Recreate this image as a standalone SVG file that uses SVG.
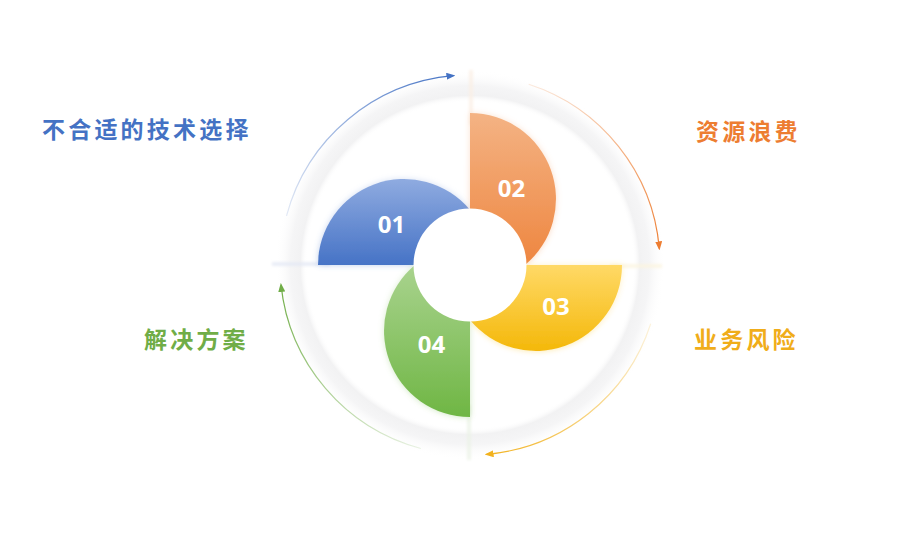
<svg xmlns="http://www.w3.org/2000/svg" width="897" height="555" viewBox="0 0 897 555">
<style>
.lbl{font-family:"Noto Sans CJK SC","Noto Sans",sans-serif;font-weight:700;font-size:23px;letter-spacing:3.2px}
.num{font-family:"Open Sans","Noto Sans",sans-serif;font-weight:700;font-size:24px;fill:#fff;text-anchor:middle}
.arc{fill:none;stroke-width:1.2}
.gap{stroke-width:3;fill:none}
</style>
<defs>
<radialGradient id="ring" gradientUnits="userSpaceOnUse" cx="470" cy="265" r="195">
<stop offset="0" stop-color="#fff" stop-opacity="0"/>
<stop offset="0.835" stop-color="#fff" stop-opacity="0"/>
<stop offset="0.87" stop-color="#f2f2f3" stop-opacity="1"/>
<stop offset="0.92" stop-color="#f5f5f6" stop-opacity="1"/>
<stop offset="1" stop-color="#fff" stop-opacity="0"/>
</radialGradient>
<linearGradient id="gBlue" x1="0" y1="0" x2="0" y2="1"><stop offset="0" stop-color="#8fabe0"/><stop offset="1" stop-color="#4673c6"/></linearGradient>
<linearGradient id="gOrange" x1="0" y1="0" x2="0" y2="1"><stop offset="0" stop-color="#f4b384"/><stop offset="1" stop-color="#ee8640"/></linearGradient>
<linearGradient id="gYellow" x1="0" y1="0" x2="0" y2="1"><stop offset="0" stop-color="#ffd966"/><stop offset="1" stop-color="#f4b80a"/></linearGradient>
<linearGradient id="gGreen" x1="0" y1="0" x2="0" y2="1"><stop offset="0" stop-color="#a9d38e"/><stop offset="1" stop-color="#6fb644"/></linearGradient>
<linearGradient id="aBlue" gradientUnits="userSpaceOnUse" x1="286.5" y1="215.8" x2="453.4" y2="75.7"><stop offset="0" stop-color="#4472c4" stop-opacity="0.15"/><stop offset="1" stop-color="#4472c4"/></linearGradient>
<linearGradient id="aOrange" gradientUnits="userSpaceOnUse" x1="528.7" y1="84.3" x2="659.3" y2="248.4"><stop offset="0" stop-color="#ed7d31" stop-opacity="0.15"/><stop offset="1" stop-color="#ed7d31"/></linearGradient>
<linearGradient id="aYellow" gradientUnits="userSpaceOnUse" x1="650.7" y1="323.7" x2="486.6" y2="454.3"><stop offset="0" stop-color="#f2b21e" stop-opacity="0.15"/><stop offset="1" stop-color="#f2b21e"/></linearGradient>
<linearGradient id="aGreen" gradientUnits="userSpaceOnUse" x1="420.8" y1="448.5" x2="281.0" y2="284.9"><stop offset="0" stop-color="#70ad47" stop-opacity="0.15"/><stop offset="1" stop-color="#70ad47"/></linearGradient>
<marker id="mBlue" markerUnits="userSpaceOnUse" markerWidth="9" markerHeight="7" refX="7" refY="3.5" orient="auto"><path d="M0,0 L9,3.5 L0,7 Z" fill="#4472c4"/></marker>
<marker id="mOrange" markerUnits="userSpaceOnUse" markerWidth="9" markerHeight="7" refX="7" refY="3.5" orient="auto"><path d="M0,0 L9,3.5 L0,7 Z" fill="#ed7d31"/></marker>
<marker id="mYellow" markerUnits="userSpaceOnUse" markerWidth="9" markerHeight="7" refX="7" refY="3.5" orient="auto"><path d="M0,0 L9,3.5 L0,7 Z" fill="#f2b21e"/></marker>
<marker id="mGreen" markerUnits="userSpaceOnUse" markerWidth="9" markerHeight="7" refX="7" refY="3.5" orient="auto"><path d="M0,0 L9,3.5 L0,7 Z" fill="#70ad47"/></marker>
<filter id="glow" x="-20%" y="-20%" width="140%" height="140%">
<feGaussianBlur in="SourceGraphic" stdDeviation="3" result="b"/>
<feComponentTransfer in="b" result="c"><feFuncA type="linear" slope="0.35"/></feComponentTransfer>
<feMerge><feMergeNode in="c"/><feMergeNode in="SourceGraphic"/></feMerge>
</filter>
<filter id="soft" x="-50%" y="-50%" width="200%" height="200%"><feGaussianBlur stdDeviation="1.5"/></filter>
</defs>
<rect width="897" height="555" fill="#fff"/>
<g id="ring-bg">
<circle cx="470" cy="265" r="195" fill="url(#ring)"/>
<g filter="url(#soft)">
<line class="gap" x1="272" y1="264" x2="330" y2="264" stroke="#e3e8f4"/>
<line class="gap" x1="471" y1="70" x2="471" y2="125" stroke="#faeee4"/>
<line class="gap" x1="610" y1="266" x2="662" y2="266" stroke="#fcf4de"/>
<line class="gap" x1="469" y1="405" x2="469" y2="460" stroke="#ebf2e6"/>
</g>
</g>
<g id="connectors">
<path class="arc" d="M286.5,215.8 A190,190 0 0 1 453.4,75.7" stroke="url(#aBlue)" marker-end="url(#mBlue)"/>
<path class="arc" d="M528.7,84.3 A190,190 0 0 1 659.3,248.4" stroke="url(#aOrange)" marker-end="url(#mOrange)"/>
<path class="arc" d="M650.7,323.7 A190,190 0 0 1 486.6,454.3" stroke="url(#aYellow)" marker-end="url(#mYellow)"/>
<path class="arc" d="M420.8,448.5 A190,190 0 0 1 281.0,284.9" stroke="url(#aGreen)" marker-end="url(#mGreen)"/>
</g>
<g id="node-01">
<path d="M318,265 A86,86 0 0 1 470,209.9 L470,265 Z" fill="url(#gBlue)" filter="url(#glow)"/>
<text class="num" x="391.5" y="232.5">01</text>
</g>
<g id="node-02">
<path d="M470,113 A86,86 0 0 1 525.1,265 L470,265 Z" fill="url(#gOrange)" filter="url(#glow)"/>
<text class="num" x="511.5" y="196.5">02</text>
</g>
<g id="node-03">
<path d="M622,265 A86,86 0 0 1 470,320.1 L470,265 Z" fill="url(#gYellow)" filter="url(#glow)"/>
<text class="num" x="556" y="314.5">03</text>
</g>
<g id="node-04">
<path d="M470,417 A86,86 0 0 1 414.9,265 L470,265 Z" fill="url(#gGreen)" filter="url(#glow)"/>
<text class="num" x="431.5" y="352.5">04</text>
</g>
<g id="center">
<circle cx="470" cy="265" r="56.5" fill="#fff"/>
</g>
<g id="label-1"><text class="lbl" x="42" y="137.5" fill="#4472c4">不合适的技术选择</text></g>
<g id="label-2"><text class="lbl" x="696" y="139.5" fill="#ed7d31">资源浪费</text></g>
<g id="label-3"><text class="lbl" x="694" y="348" fill="#f0ad1a">业务风险</text></g>
<g id="label-4"><text class="lbl" x="144" y="347.5" fill="#70ad47">解决方案</text></g>
</svg>
